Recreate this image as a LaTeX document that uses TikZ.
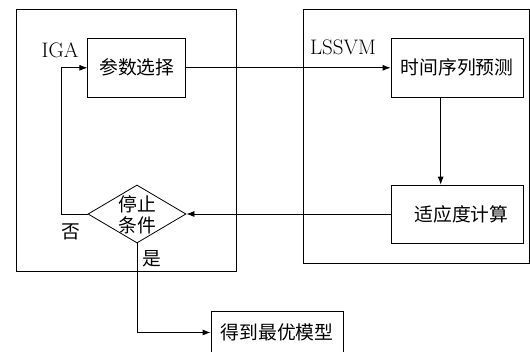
\documentclass[tikz,border=0pt]{standalone}
\usepackage{fontspec}
\newfontfamily\cjk{Noto Sans CJK SC}
\usetikzlibrary{arrows.meta,shapes.geometric}
\tikzset{
  ln/.style={line width=0.8pt},
  arr/.style={ln,-{Latex[length=8pt,width=6pt]}},
  outer/.style={draw,ln,inner sep=0pt},
  boxn/.style={draw,ln,inner sep=0pt,font=\cjk\fontsize{18.8}{21.5}\selectfont},
  cj/.style={inner sep=0pt,font=\cjk\fontsize{18.8}{21.5}\selectfont,align=center},
  lat/.style={inner sep=0pt,font=\fontsize{21}{25}\selectfont},
}
\begin{document}
\begin{tikzpicture}[x=1pt,y=-1pt]
\useasboundingbox (0,0) rectangle (530,351);
% outer boxes
\node[outer,minimum width=220pt,minimum height=262pt] (L) at (126,140) {};
\node[outer,minimum width=226pt,minimum height=254pt] (R) at (416,136) {};
% labels
\node[lat] (iga) at (60,50) {IGA};
\node[lat] (ls) at (343,47) {LSSVM};
% boxes
\node[boxn,minimum width=98pt,minimum height=59pt] (p1) at (136.8,67.8) {参数选择};
\node[boxn,minimum width=132pt,minimum height=59pt] (p2) at (457,67.8) {时间序列预测};
\node[boxn,minimum width=132pt,minimum height=58pt] (p3) at (457,214) {\hspace*{9pt}适应度计算};
\node[boxn,minimum width=132pt,minimum height=42pt] (p4) at (277,332.5) {得到最优模型};
% diamond
\node[draw,ln,diamond,minimum width=98pt,minimum height=58pt,inner sep=0pt] (d) at (137,214) {};
\node[cj] (dt) at (137,215) {停止\\条件};
\node[cj] (no) at (71,232) {否};
\node[cj] (yes) at (152,259) {是};
% helper coordinates
\coordinate (dx) at (440.7,0);
\coordinate (fb) at (61.7,0);
% connectors
\draw[arr] (p1.east) -- (p2.west);
\draw[arr] (p2.south -| dx) -- (p3.north -| dx);
\draw[arr] (p3.west) -- (d.east);
\draw[arr] (d.west) -- (d.west -| fb) |- (p1.west);
\draw[arr] (d.south) |- (p4.west);
\end{tikzpicture}
\end{document}
